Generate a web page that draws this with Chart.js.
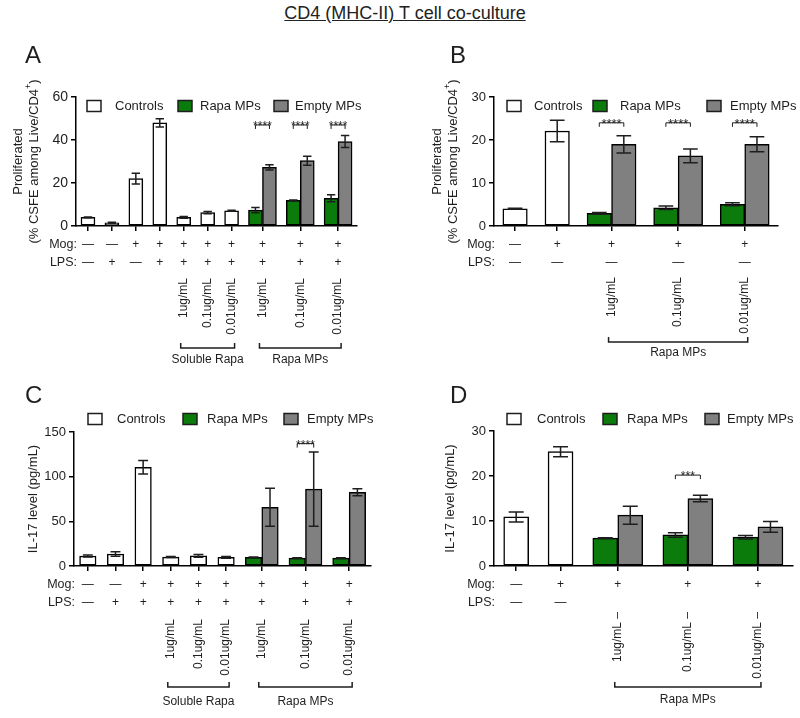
<!DOCTYPE html>
<html>
<head>
<meta charset="utf-8">
<script src="https://cdn.jsdelivr.net/npm/chart.js@4/dist/chart.umd.min.js"></script>
<style>
  body { margin: 0; width: 800px; height: 718px; position: relative; overflow: hidden; background: #fff; font-family: 'Liberation Sans', Arial, sans-serif; }
  canvas { position: absolute; }
  #title { position: absolute; left: 0; width: 810px; text-align: center; top: 2px; font-size: 18px; line-height: 22px; text-decoration: underline; color: #222; white-space: nowrap; }
</style>
</head>
<body>
<div id="title">CD4 (MHC-II) T cell co-culture</div>
<canvas id="chartA" width="400" height="340" style="left:0;top:30px"></canvas>
<canvas id="chartB" width="400" height="340" style="left:400px;top:30px"></canvas>
<canvas id="chartC" width="400" height="348" style="left:0;top:370px"></canvas>
<canvas id="chartD" width="400" height="348" style="left:400px;top:370px"></canvas>
<script>
// ---- data ----
const legendLabels = ['Controls', 'Rapa MPs', 'Empty MPs'];

// A: proliferation, 10 conditions
const aMog = ['—', '—', '+', '+', '+', '+', '+', '+', '+', '+'];
const aLps = ['—', '+', '—', '+', '+', '+', '+', '+', '+', '+'];
const aConc = ['', '', '', '', '1ug/mL', '0.1ug/mL', '0.01ug/mL', '1ug/mL', '0.1ug/mL', '0.01ug/mL'];
const aControls = [4, 1.5, 22, 48, 4, 6.2, 7.1, null, null, null];
const aControlsErr = [0.2, 0.2, 2.5, 1.9, 0.4, 0.5, 0.2, null, null, null];
const aRapa = [null, null, null, null, null, null, null, 7.4, 11.9, 12.9];
const aRapaErr = [null, null, null, null, null, null, null, 1.2, 0.2, 1.6];
const aEmpty = [null, null, null, null, null, null, null, 27.3, 30.4, 39.3];
const aEmptyErr = [null, null, null, null, null, null, null, 1.2, 2.1, 2.8];
const aSig = ['', '', '', '', '', '', '', '****', '****', '****'];
const aGroups = [['Soluble Rapa', 4, 6], ['Rapa MPs', 7, 9]];
const aTicks = [0, 20, 40, 60];

// B: proliferation, 5 conditions
const bMog = ['—', '+', '+', '+', '+'];
const bLps = ['—', '—', '—', '—', '—'];
const bConc = ['', '', '1ug/mL', '0.1ug/mL', '0.01ug/mL'];
const bControls = [4, 22.1, null, null, null];
const bControlsErr = [0.1, 2.5, null, null, null];
const bRapa = [null, null, 2.95, 4.25, 5.05];
const bRapaErr = [null, null, 0.2, 0.4, 0.35];
const bEmpty = [null, null, 19, 16.3, 19];
const bEmptyErr = [null, null, 2.0, 1.6, 1.75];
const bSig = ['', '', '****', '****', '****'];
const bGroups = [['Rapa MPs', 2, 4]];
const bTicks = [0, 10, 20, 30];

// C: IL-17, 9 conditions
const cMog = ['—', '—', '+', '+', '+', '+', '+', '+', '+'];
const cLps = ['—', '+', '+', '+', '+', '+', '+', '+', '+'];
const cConc = ['', '', '', '1ug/mL', '0.1ug/mL', '0.01ug/mL', '1ug/mL', '0.1ug/mL', '0.01ug/mL'];
const cControls = [11.2, 13.4, 110.5, 10, 11.4, 9.7, null, null, null];
const cControlsErr = [1, 2.5, 7.5, 0.5, 1.5, 1, null, null, null];
const cRapa = [null, null, null, null, null, null, 9.7, 8.8, 8.8];
const cRapaErr = [null, null, null, null, null, null, 0.4, 0.3, 0.3];
const cEmpty = [null, null, null, null, null, null, 65.8, 86, 82.5];
const cEmptyErr = [null, null, null, null, null, null, 21.3, 41.5, 4];
const cSig = ['', '', '', '', '', '', '', '****', ''];
const cGroups = [['Soluble Rapa', 3, 5], ['Rapa MPs', 6, 8]];
const cTicks = [0, 50, 100, 150];

// D: IL-17, 5 conditions
const dMog = ['—', '+', '+', '+', '+'];
const dLps = ['—', '—', '', '', ''];
const dConc = ['', '', '1ug/mL –', '0.1ug/mL –', '0.01ug/mL –'];
const dControls = [10.9, 25.4, null, null, null];
const dControlsErr = [1.1, 1.1, null, null, null];
const dRapa = [null, null, 6.2, 6.9, 6.4];
const dRapaErr = [null, null, 0.1, 0.5, 0.4];
const dEmpty = [null, null, 11.3, 15, 8.7];
const dEmptyErr = [null, null, 2.0, 0.7, 1.2];
const dSig = ['', '', '', '***', ''];
const dGroups = [['Rapa MPs', 2, 4]];
const dTicks = [0, 10, 20, 30];

const titleProlif = ['Proliferated', '(% CSFE among Live/CD4^+)'];
const titleIL17 = ['IL-17 level (pg/mL)'];

// ---- style ----
const FONT = "'Liberation Sans', Arial, sans-serif";
const INK = '#1e1e1e';
const GREEN = '#0b7c0b';
const GRAY = '#808080';
const PAIR_W = 1.58;   // a paired condition takes this many single slots

Chart.defaults.font.family = FONT;
Chart.defaults.color = INK;

const panels = [
  { canvas: 'chartA', letter: 'A', letterX: 25, mog: aMog, lps: aLps, conc: aConc,
    controls: aControls, controlsErr: aControlsErr, rapa: aRapa, rapaErr: aRapaErr, empty: aEmpty, emptyErr: aEmptyErr,
    sig: aSig, groups: aGroups, ticks: aTicks, yTitle: titleProlif, titleX: [-58, -42],
    top: 67, yW: 76, right: 43, xH: 144, bar: 14, tickFont: 14,
    legendDy: 9, legendBox: [11, 102, 198], legendText: [39, 124, 219],
    rotDy: 52, brDy: 122, brTextDy: 134, sigLevel: 47, sigFont: 12 },
  { canvas: 'chartB', letter: 'B', letterX: 50, mog: bMog, lps: bLps, conc: bConc,
    controls: bControls, controlsErr: bControlsErr, rapa: bRapa, rapaErr: bRapaErr, empty: bEmpty, emptyErr: bEmptyErr,
    sig: bSig, groups: bGroups, ticks: bTicks, yTitle: titleProlif, titleX: [-57, -41],
    top: 67, yW: 94, right: 22, xH: 144, bar: 24.5, tickFont: 13,
    legendDy: 9, legendBox: [13, 99, 213], legendText: [40, 126, 236],
    rotDy: 51, brDy: 116, brTextDy: 127, sigLevel: 24, sigFont: 13 },
  { canvas: 'chartC', letter: 'C', letterX: 25, mog: cMog, lps: cLps, conc: cConc,
    controls: cControls, controlsErr: cControlsErr, rapa: cRapa, rapaErr: cRapaErr, empty: cEmpty, emptyErr: cEmptyErr,
    sig: cSig, groups: cGroups, ticks: cTicks, yTitle: titleIL17, titleX: [-41],
    top: 62, yW: 74, right: 29, xH: 152, bar: 16.5, tickFont: 13,
    legendDy: -13, legendBox: [14, 109, 210], legendText: [43, 133, 233],
    rotDy: 53, brDy: 121, brTextDy: 136, sigLevel: 137, sigFont: 12 },
  { canvas: 'chartD', letter: 'D', letterX: 50, mog: dMog, lps: dLps, conc: dConc,
    controls: dControls, controlsErr: dControlsErr, rapa: dRapa, rapaErr: dRapaErr, empty: dEmpty, emptyErr: dEmptyErr,
    sig: dSig, groups: dGroups, ticks: dTicks, yTitle: titleIL17, titleX: [-44],
    top: 61, yW: 94, right: 7, xH: 152, bar: 25, tickFont: 13,
    legendDy: -12, legendBox: [13, 109, 211], legendText: [43, 133, 233],
    rotDy: 46, brDy: 121, brTextDy: 134, sigLevel: 20.2, sigFont: 12 }
];

// single conditions take one slot, paired (Rapa/Empty) conditions a wider one
function slotCenters(rapa) {
  let acc = 0;
  const centers = rapa.map(v => {
    const w = v == null ? 1 : PAIR_W;
    const c = acc + w / 2;
    acc += w;
    return c;
  });
  return { centers, total: acc };
}

function drawRotated(ctx, text, x, y, align) {
  ctx.save();
  ctx.translate(x, y);
  ctx.rotate(-Math.PI / 2);
  ctx.textAlign = align;
  ctx.textBaseline = 'middle';
  ctx.fillText(text, 0, 0);
  ctx.restore();
}

function figurePlugin(p, centers) {
  return {
    id: 'figure' + p.letter,
    afterDatasetsDraw(chart) {
      const ctx = chart.ctx, ys = chart.scales.y;
      ctx.save();
      ctx.strokeStyle = INK;
      ctx.lineWidth = 1.5;
      // error bars
      chart.data.datasets.forEach((ds, i) => {
        const meta = chart.getDatasetMeta(i);
        meta.data.forEach((bar, j) => {
          const v = ds.data[j], e = ds.errors[j];
          if (v == null || e == null) return;
          const top = ys.getPixelForValue(v + e), bot = ys.getPixelForValue(Math.max(v - e, 0));
          const cap = bar.width * 0.3;
          ctx.beginPath();
          ctx.moveTo(bar.x, top); ctx.lineTo(bar.x, bot);
          ctx.moveTo(bar.x - cap, top); ctx.lineTo(bar.x + cap, top);
          ctx.moveTo(bar.x - cap, bot); ctx.lineTo(bar.x + cap, bot);
          ctx.stroke();
        });
      });
      // significance brackets
      const g = chart.getDatasetMeta(1).data, e = chart.getDatasetMeta(2).data;
      const yb = ys.getPixelForValue(p.sigLevel);
      ctx.fillStyle = INK;
      ctx.font = p.sigFont + 'px ' + FONT;
      ctx.textAlign = 'center';
      ctx.textBaseline = 'alphabetic';
      p.sig.forEach((s, j) => {
        if (!s) return;
        const x1 = g[j].x, x2 = e[j].x;
        ctx.lineWidth = 1;
        ctx.beginPath();
        ctx.moveTo(x1, yb + 4); ctx.lineTo(x1, yb); ctx.lineTo(x2, yb); ctx.lineTo(x2, yb + 4);
        ctx.stroke();
        ctx.fillText(s, (x1 + x2) / 2, yb + p.sigFont * 0.42);
      });
      ctx.restore();
    },
    afterDraw(chart) {
      const ctx = chart.ctx, xs = chart.scales.x;
      const { left, top, bottom } = chart.chartArea;
      ctx.save();
      ctx.fillStyle = INK;
      ctx.strokeStyle = INK;

      // panel letter
      ctx.font = '24px ' + FONT;
      ctx.textAlign = 'left';
      ctx.textBaseline = 'alphabetic';
      ctx.fillText(p.letter, p.letterX, 33);

      // legend
      const fills = ['#ffffff', GREEN, GRAY];
      ctx.font = '13px ' + FONT;
      ctx.textBaseline = 'middle';
      ctx.lineWidth = 1.5;
      const ly = top + p.legendDy;
      legendLabels.forEach((lab, i) => {
        const bx = left + p.legendBox[i];
        ctx.fillStyle = fills[i];
        ctx.fillRect(bx, ly - 5.5, 14, 11);
        ctx.strokeRect(bx, ly - 5.5, 14, 11);
        ctx.fillStyle = INK;
        ctx.fillText(lab, left + p.legendText[i], ly);
      });

      // y-axis title (rotated, with optional superscript after ^)
      const yc = (top + bottom) / 2;
      p.yTitle.forEach((line, k) => {
        const x = left + p.titleX[k];
        ctx.save();
        ctx.translate(x, yc);
        ctx.rotate(-Math.PI / 2);
        ctx.textBaseline = 'middle';
        ctx.textAlign = 'left';
        if (line.includes('^')) {
          const [pre, rest] = line.split('^');
          const sup = rest[0], post = rest.slice(1);
          ctx.font = '13px ' + FONT;
          const w1 = ctx.measureText(pre).width, w3 = ctx.measureText(post).width;
          ctx.font = '9px ' + FONT;
          const w2 = ctx.measureText(sup).width;
          let sx = -(w1 + w2 + w3) / 2;
          ctx.font = '13px ' + FONT;
          ctx.fillText(pre, sx, 0); sx += w1;
          ctx.font = '9px ' + FONT;
          ctx.fillText(sup, sx, -5); sx += w2;
          ctx.font = '13px ' + FONT;
          ctx.fillText(post, sx, 0);
        } else {
          ctx.font = '13px ' + FONT;
          ctx.textAlign = 'center';
          ctx.fillText(line, 0, 0);
        }
        ctx.restore();
      });

      // condition rows under the axis
      ctx.font = '12.5px ' + FONT;
      ctx.textBaseline = 'middle';
      ctx.textAlign = 'right';
      ctx.fillText('Mog:', left + 1, bottom + 18.5);
      ctx.fillText('LPS:', left + 1, bottom + 37);
      ctx.textAlign = 'center';
      ctx.font = '12px ' + FONT;
      centers.forEach((c, j) => {
        const x = xs.getPixelForValue(c);
        ctx.fillText(p.mog[j], x, bottom + 18.5);
        ctx.fillText(p.lps[j], x, bottom + 37);
        if (p.conc[j]) drawRotated(ctx, p.conc[j], x, bottom + p.rotDy, 'right');
      });

      // group brackets
      ctx.lineWidth = 1.5;
      const by = bottom + p.brDy;
      p.groups.forEach(([lab, i0, i1]) => {
        const x1 = xs.getPixelForValue(centers[i0]) - 3;
        const x2 = xs.getPixelForValue(centers[i1]) + 3;
        ctx.beginPath();
        ctx.moveTo(x1, by - 5); ctx.lineTo(x1, by); ctx.lineTo(x2, by); ctx.lineTo(x2, by - 5);
        ctx.stroke();
        ctx.textAlign = 'center';
        ctx.fillText(lab, (x1 + x2) / 2, bottom + p.brTextDy);
      });
      ctx.restore();
    }
  };
}

panels.forEach(p => {
  const { centers, total } = slotCenters(p.rapa);
  const axisLine = { display: true, color: '#000', width: 1.5 };
  const ticks = p.ticks;
  new Chart(document.getElementById(p.canvas), {
    type: 'bar',
    data: {
      labels: centers,
      datasets: [
        { label: legendLabels[0], data: p.controls, errors: p.controlsErr, backgroundColor: '#ffffff' },
        { label: legendLabels[1], data: p.rapa, errors: p.rapaErr, backgroundColor: GREEN },
        { label: legendLabels[2], data: p.empty, errors: p.emptyErr, backgroundColor: GRAY }
      ].map(ds => Object.assign(ds, {
        borderColor: '#000', borderWidth: 1.5, borderSkipped: false,
        barThickness: p.bar, skipNull: true, grouped: true
      }))
    },
    options: {
      responsive: false,
      animation: false,
      layout: { padding: { top: p.top, right: p.right, bottom: 0, left: 0 } },
      plugins: { legend: { display: false }, tooltip: { enabled: false }, title: { display: false } },
      scales: {
        x: {
          type: 'linear', min: 0, max: total, bounds: 'data', offset: false,
          afterBuildTicks: s => { s.ticks = centers.map(v => ({ value: v })); },
          afterFit: s => { s.height = p.xH; },
          ticks: { display: false },
          grid: { display: true, offset: false, drawOnChartArea: false, drawTicks: true, tickLength: 5, color: '#000', lineWidth: 1.5 },
          border: axisLine
        },
        y: {
          min: ticks[0], max: ticks[ticks.length - 1],
          afterFit: s => { s.width = p.yW; },
          ticks: { stepSize: ticks[1] - ticks[0], padding: 3, color: INK, font: { size: p.tickFont } },
          grid: { display: true, drawOnChartArea: false, drawTicks: true, tickLength: 5, color: '#000', lineWidth: 1.5 },
          border: axisLine
        }
      }
    },
    plugins: [figurePlugin(p, centers)]
  });
});
</script>
</body>
</html>
